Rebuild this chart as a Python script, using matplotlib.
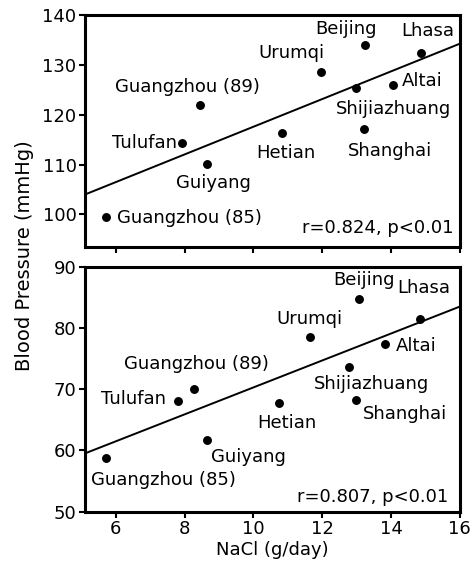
import numpy as np
import matplotlib
matplotlib.use("Agg")
import matplotlib.pyplot as plt

cities = ['Guangzhou (85)', 'Tulufan', 'Guangzhou (89)', 'Guiyang', 'Hetian',
          'Urumqi', 'Beijing', 'Shijiazhuang', 'Shanghai', 'Altai', 'Lhasa']

# systolic panel
nacl_sys = [5.71, 7.91, 8.44, 8.65, 10.84, 11.95, 13.23, 12.97, 13.20, 14.05, 14.88]
sbp = [99.5, 114.4, 121.9, 110.1, 116.4, 128.6, 134.1, 125.4, 117.1, 125.9, 132.4]
sys_fit = (89.8, 2.78)  # intercept, slope
sys_stat = 'r=0.824, p<0.01'

# diastolic panel
nacl_dia = [5.71, 7.81, 8.27, 8.65, 10.75, 11.64, 13.06, 12.77, 12.99, 13.83, 14.84]
dbp = [58.7, 68.1, 70.1, 61.7, 67.7, 78.6, 84.8, 73.7, 68.2, 77.4, 81.5]
dia_fit = (48.3, 2.20)
dia_stat = 'r=0.807, p<0.01'

x_ticks = [6, 8, 10, 12, 14, 16]
sys_ticks = [100, 110, 120, 130, 140]
dia_ticks = [50, 60, 70, 80, 90]

# label offsets in pixels (dx, dy, ha)
sys_offsets = [(11.6, -1.6, 'left'), (-4.4, 0, 'right'), (-12.7, 18, 'center'),
               (6.7, -18.7, 'center'), (3.2, -20.6, 'center'), (-29.4, 18.7, 'center'),
               (-18.4, 16, 'center'), (38.1, -20.6, 'center'), (26.8, -21.4, 'center'),
               (9, 4.3, 'left'), (6.8, 22, 'center')]
dia_offsets = [(57.3, -21.7, 'center'), (-12.6, 1.4, 'right'), (2.2, 25, 'center'),
               (41.7, -16.7, 'center'), (7.3, -19.4, 'center'), (-0.9, 17.4, 'center'),
               (5.7, 18.3, 'center'), (23.2, -17.3, 'center'), (48.5, -14, 'center'),
               (10.6, -2, 'left'), (4, 30.7, 'center')]

FS = 13
XLIM = (5.1, 16)

fig = plt.figure(figsize=(4.77, 5.64), dpi=100)
ax1 = fig.add_axes([0.178, 0.5626, 0.786, 0.4104])
ax2 = fig.add_axes([0.178, 0.0927, 0.786, 0.4343])


def panel(ax, x, y, fit, stat, offsets, ylim, yticks, statpos):
    ax.plot(x, y, 'o', color='black', markersize=5.4, zorder=3)
    xs = np.array(XLIM)
    ax.plot(xs, fit[0] + fit[1] * xs, color='black', linewidth=1.4)
    for name, xi, yi, (dx, dy, ha) in zip(cities, x, y, offsets):
        ax.annotate(name, (xi, yi), xytext=(dx, dy), textcoords='offset pixels',
                    ha=ha, va='center', fontsize=FS)
    ax.text(statpos[0], statpos[1], stat, transform=ax.transAxes,
            ha='right', va='center', fontsize=FS)
    ax.set_xlim(*XLIM)
    ax.set_ylim(*ylim)
    ax.set_xticks(x_ticks)
    ax.set_yticks(yticks)
    for s in ax.spines.values():
        s.set_linewidth(2.2)
    ax.tick_params(direction='out', length=4, width=1.5, labelsize=FS, pad=2)


panel(ax1, nacl_sys, sbp, sys_fit, sys_stat, sys_offsets, (93.5, 140), sys_ticks, (0.984, 0.082))
panel(ax2, nacl_dia, dbp, dia_fit, dia_stat, dia_offsets, (50, 90), dia_ticks, (0.969, 0.061))
ax1.tick_params(labelbottom=False)

ax2.set_xlabel('NaCl (g/day)', fontsize=13, labelpad=2)
fig.text(0.052, 0.5465, 'Blood Pressure (mmHg)', rotation=90, ha='center', va='center',
         fontsize=14)

fig.savefig('out.png', dpi=100)
